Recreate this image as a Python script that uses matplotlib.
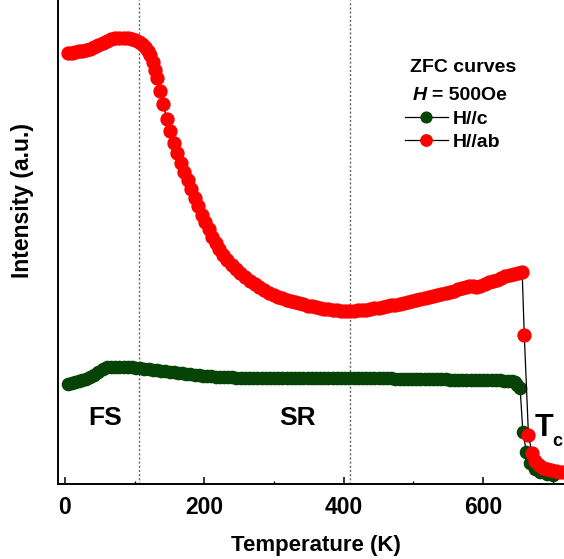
import matplotlib
matplotlib.use("Agg")
import matplotlib.pyplot as plt

plt.rcParams['font.family'] = ['Liberation Sans', 'DejaVu Sans']
plt.rcParams['font.weight'] = 'bold'

# H//ab (rojo): temperatura (K) e intensidad (u.a.)
t_ab = [5, 10, 15, 20, 25, 30, 36, 42, 48, 54, 60, 66, 72, 78, 84, 90, 96, 101, 106, 111,
        115, 119, 122, 126, 129, 132, 136, 141, 146, 151, 156, 161, 166, 171, 176, 181,
        186, 191, 196, 201, 206, 211, 216, 221, 227, 233, 239, 245, 251, 258, 265, 272,
        279, 286, 293, 300, 306, 312, 318, 324, 330, 336, 342, 348, 354, 360, 366, 372,
        378, 384, 390, 396, 402, 408, 414, 420, 426, 432, 438, 444, 450, 456, 462, 468,
        474, 480, 486, 492, 498, 504, 510, 516, 522, 528, 534, 540, 546, 552, 558, 564,
        570, 575, 580, 585, 590, 596, 602, 608, 614, 620, 626, 632, 638, 644, 650, 656,
        659, 665, 670, 675, 680, 686, 692, 698, 704, 710, 716]
i_ab = [4.31, 4.31, 4.32, 4.33, 4.33, 4.34, 4.35, 4.37, 4.39, 4.41, 4.43, 4.45, 4.46,
        4.46, 4.46, 4.46, 4.45, 4.44, 4.42, 4.40, 4.37, 4.33, 4.29, 4.22, 4.14, 4.06,
        3.93, 3.80, 3.65, 3.53, 3.41, 3.31, 3.21, 3.12, 3.04, 2.95, 2.86, 2.78, 2.69,
        2.62, 2.55, 2.47, 2.41, 2.35, 2.29, 2.24, 2.19, 2.15, 2.11, 2.07, 2.03, 2.00,
        1.97, 1.94, 1.91, 1.89, 1.87, 1.86, 1.84, 1.83, 1.82, 1.81, 1.80, 1.78, 1.78,
        1.77, 1.76, 1.75, 1.75, 1.74, 1.74, 1.73, 1.73, 1.73, 1.73, 1.74, 1.74, 1.74,
        1.75, 1.76, 1.76, 1.77, 1.78, 1.79, 1.79, 1.80, 1.81, 1.82, 1.83, 1.84, 1.85,
        1.86, 1.87, 1.88, 1.89, 1.90, 1.91, 1.92, 1.93, 1.95, 1.96, 1.97, 1.98, 1.98,
        1.97, 1.98, 2.00, 2.02, 2.03, 2.04, 2.06, 2.08, 2.09, 2.10, 2.11, 2.12,
        1.49, 0.49, 0.31, 0.23, 0.19, 0.16, 0.15, 0.14, 0.13, 0.12, 0.12]

# H//c (verde)
t_c = [5, 10, 15, 20, 25, 30, 36, 42, 48, 54, 60, 66, 72, 78, 84, 90, 96, 102, 108, 114,
       120, 126, 132, 138, 144, 150, 156, 162, 168, 174, 180, 186, 192, 198, 204, 210,
       216, 222, 228, 234, 240, 246, 252, 258, 264, 270, 276, 282, 288, 294, 300, 306,
       312, 318, 324, 330, 336, 342, 348, 354, 360, 366, 372, 378, 384, 390, 396, 402,
       408, 414, 420, 426, 432, 438, 444, 450, 456, 462, 468, 474, 480, 486, 492, 498,
       504, 510, 516, 522, 528, 534, 540, 546, 552, 558, 564, 570, 576, 582, 588, 594,
       600, 606, 612, 618, 624, 630, 636, 641, 645, 649, 653, 657, 662, 667, 674, 682,
       692, 700]
i_c = [1.00, 1.01, 1.02, 1.03, 1.04, 1.05, 1.07, 1.09, 1.12, 1.15, 1.17, 1.17, 1.17,
       1.17, 1.17, 1.17, 1.17, 1.16, 1.16, 1.15, 1.15, 1.14, 1.14, 1.13, 1.13, 1.12,
       1.12, 1.11, 1.11, 1.10, 1.10, 1.09, 1.09, 1.08, 1.08, 1.08, 1.07, 1.07, 1.07,
       1.07, 1.07, 1.06, 1.06, 1.06, 1.06, 1.06, 1.06, 1.06, 1.06, 1.06, 1.06, 1.06,
       1.06, 1.06, 1.06, 1.06, 1.06, 1.06, 1.06, 1.06, 1.06, 1.06, 1.06, 1.06, 1.06,
       1.06, 1.06, 1.06, 1.06, 1.06, 1.06, 1.06, 1.06, 1.06, 1.06, 1.06, 1.06, 1.06,
       1.06, 1.05, 1.05, 1.05, 1.05, 1.05, 1.05, 1.05, 1.05, 1.05, 1.05, 1.05, 1.05,
       1.05, 1.04, 1.04, 1.04, 1.04, 1.04, 1.04, 1.04, 1.04, 1.04, 1.04, 1.04, 1.04,
       1.04, 1.03, 1.03, 1.03, 1.02, 0.99, 0.96, 0.52, 0.32, 0.21, 0.15, 0.12, 0.10,
       0.09]

v_lines = [106, 409]  # lineas punteadas que separan FS / SR

fig = plt.figure(figsize=(5.64, 5.59), dpi=100)
ax = fig.add_axes([58 / 564, 75 / 559, 506 / 564, 484 / 559])

for x in v_lines:
    ax.axvline(x, color='#666666', lw=1.0, ls=(0, (1.5, 1.5)), zorder=1)

ax.plot(t_c, i_c, color='black', lw=0.9, marker='o', ms=8.8, mfc='#064306', mec='#064306',
        label='H//c', zorder=2)
ax.plot(t_ab, i_ab, color='black', lw=0.9, marker='o', ms=9.3, mfc='#ff0000', mec='#ff0000',
        label='H//ab', zorder=3)

ax.set_xlim(-10, 716)
ax.set_ylim(0, 4.84)
ax.set_xticks([0, 200, 400, 600])
ax.set_xticks([100, 300, 500, 700], minor=True)
ax.set_yticks([])
ax.tick_params(axis='x', which='major', direction='in', length=5, width=1.1, pad=9, labelsize=16.5)
ax.tick_params(axis='x', which='minor', direction='in', length=2.2, width=1.0)
for lab in ax.get_xticklabels():
    lab.set_fontweight('bold')
ax.spines['top'].set_visible(False)
ax.spines['right'].set_visible(False)
ax.spines['left'].set_linewidth(1.4)
ax.spines['bottom'].set_linewidth(1.4)

fig.text(316 / 564, 1 - 545 / 559, 'Temperature (K)', ha='center', va='center',
         fontsize=16, fontweight='bold')
fig.text(23 / 564, 1 - 200 / 559, 'Intensity (a.u.)', ha='center', va='center',
         rotation=90, fontsize=16.5, fontweight='bold')

# textos dentro del grafico
ax.text(57, 0.66, 'FS', ha='center', va='center', fontsize=19, fontweight='bold')
ax.text(334, 0.66, 'SR', ha='center', va='center', fontsize=19, fontweight='bold')
ax.text(688, 0.56, 'T', ha='center', va='center', fontsize=22, fontweight='bold')
ax.text(699, 0.42, 'c', ha='left', va='center', fontsize=13, fontweight='bold')

# leyenda
fig.text(463 / 564, 1 - 67 / 559, 'ZFC curves', ha='center', va='center',
         fontsize=14, fontweight='bold')
fig.text(420 / 564, 1 - 95 / 559, 'H', ha='center', va='center', fontsize=14,
         fontweight='bold', fontstyle='italic')
fig.text(432 / 564, 1 - 95 / 559, '= 500Oe', ha='left', va='center', fontsize=14,
         fontweight='bold')
leg = ax.legend(loc='upper left', bbox_to_anchor=(405 / 564, 1 - 110 / 559),
                bbox_transform=fig.transFigure, frameon=False, borderpad=0,
                borderaxespad=0, handlelength=2.2, handletextpad=0.25,
                labelspacing=0.3, prop={'size': 14, 'weight': 'bold'}, markerscale=0.88)

fig.savefig('out.png', dpi=100)
